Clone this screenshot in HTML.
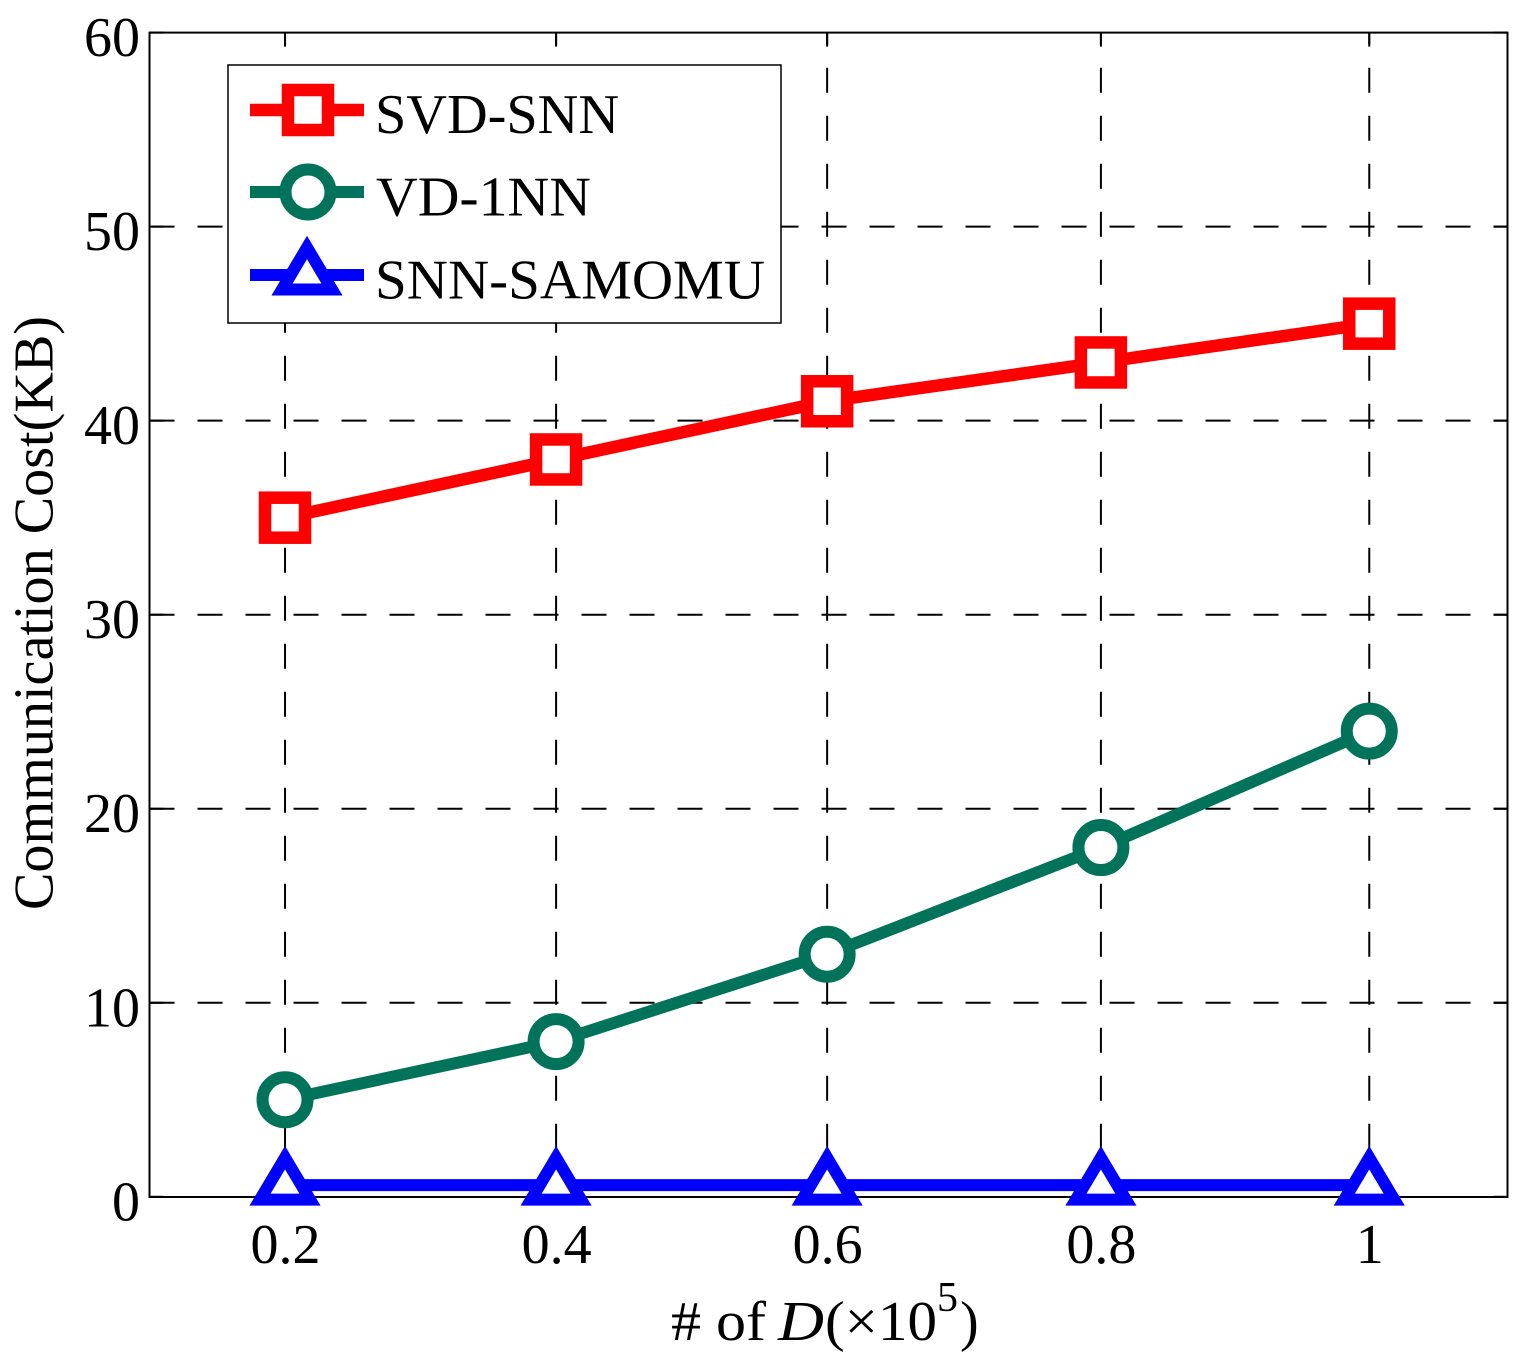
<!DOCTYPE html>
<html lang="en">
<head>
<meta charset="utf-8">
<title>Communication Cost vs number of D</title>
<style>
  html, body { margin: 0; padding: 0; background: #fff; }
  svg { display: block; }
  text { font-family: "Liberation Serif", serif; fill: #000; }
</style>
</head>
<body>
<svg id="chart" xmlns="http://www.w3.org/2000/svg" width="1520" height="1364" viewBox="0 0 1520 1364">
  <rect x="0" y="0" width="1520" height="1364" fill="#fff"/>
  <g id="grid"></g>
  <g id="ticks"></g>
  <rect x="149.5" y="32.6" width="1358" height="1164.4" fill="none" stroke="#000" stroke-width="2"/>
  <g id="tick-labels"></g>
  <g id="series"></g>

  <text transform="translate(52.5,910) rotate(-90)" font-size="56" textLength="594" lengthAdjust="spacingAndGlyphs">Communication Cost(KB)</text>
  <g font-size="56">
    <text x="671" y="1340" textLength="95" lengthAdjust="spacingAndGlyphs"># of</text>
    <text x="778" y="1340" font-style="italic" textLength="46" lengthAdjust="spacingAndGlyphs">D</text>
    <text x="825" y="1340" textLength="112" lengthAdjust="spacingAndGlyphs">(×10</text>
    <text x="937" y="1311" font-size="42">5</text>
    <text x="960" y="1340">)</text>
  </g>

  <g>
    <rect x="228" y="65" width="553" height="258" fill="#fff" stroke="#000" stroke-width="1.5"/>
    <g>
      <line x1="250" x2="364" y1="110" y2="110" stroke="#ff0000" stroke-width="12.5"/>
      <rect x="288" y="90" width="40" height="40" fill="#fff" stroke="#ff0000" stroke-width="12.5"/>
      <text x="375" y="133" font-size="56" textLength="244" lengthAdjust="spacingAndGlyphs">SVD-SNN</text>
    </g>
    <g>
      <line x1="250" x2="364" y1="192" y2="192" stroke="#00735a" stroke-width="12"/>
      <circle cx="308" cy="192" r="22.5" fill="#fff" stroke="#00735a" stroke-width="12"/>
      <text x="376" y="215.5" font-size="56" textLength="215" lengthAdjust="spacingAndGlyphs">VD-1NN</text>
    </g>
    <g>
      <line x1="250" x2="364" y1="275" y2="275" stroke="#0000ff" stroke-width="12"/>
      <path d="M307 247.5 L332 289.5 L282 289.5 Z" fill="#fff" stroke="#0000ff" stroke-width="12" stroke-miterlimit="10"/>
      <text x="375" y="298.5" font-size="56" textLength="390" lengthAdjust="spacingAndGlyphs">SNN-SAMOMU</text>
    </g>
  </g>
</svg>
<script>
// Chart data
const xValues = [0.2, 0.4, 0.6, 0.802, 1.0];
const xTickLabels = ['0.2', '0.4', '0.6', '0.8', '1'];
const yTicks = [0, 10, 20, 30, 40, 50, 60];
const yTickLabels = ['0', '10', '20', '30', '40', '50', '60'];
const svdSnnValues = [35, 38, 41, 43, 45];
const vd1nnValues = [5, 8, 12.5, 18, 24];
const snnSamomuValues = [0.6, 0.6, 0.6, 0.6, 0.6];

const NS = 'http://www.w3.org/2000/svg';
const plotLeft = 149.5, plotRight = 1507.5, plotTop = 32.6, plotBottom = 1196.8;
const xMin = 0.1, xMax = 1.102, yMin = 0, yMax = 60;
function xScale(v) { return plotLeft + (v - xMin) / (xMax - xMin) * (plotRight - plotLeft); }
function yScale(v) { return plotBottom - (v - yMin) / (yMax - yMin) * (plotBottom - plotTop); }
function make(parent, tag, props) {
  const el = document.createElementNS(NS, tag);
  for (const k in props) el.setAttribute(k, props[k]);
  parent.appendChild(el);
  return el;
}

const gridG = document.getElementById('grid');
const ticksG = document.getElementById('ticks');
const labelsG = document.getElementById('tick-labels');
const seriesG = document.getElementById('series');

xValues.forEach(function (v, i) {
  const x = xScale(v);
  const g = make(gridG, 'line', { x1: x, x2: x, y1: plotBottom, y2: plotTop, stroke: '#000', 'stroke-width': 2, 'stroke-dasharray': '25 23' });
  
  
  const t1 = make(ticksG, 'line', { x1: x, x2: x, y1: plotBottom, y2: plotBottom - 14, stroke: '#000', 'stroke-width': 2 });
  
  
  const t2 = make(ticksG, 'line', { x1: x, x2: x, y1: plotTop, y2: plotTop + 14, stroke: '#000', 'stroke-width': 2 });
  
  
  const label = make(labelsG, 'text', { x: x + 0.5, y: 1263, 'font-size': 56, 'text-anchor': 'middle' });
  
  
  label.textContent = xTickLabels[i];
});

yTicks.forEach(function (v, i) {
  const y = yScale(v);
  if (v !== yMin && v !== yMax) {
    const g = make(gridG, 'line', { x1: plotLeft, x2: plotRight, y1: y, y2: y, stroke: '#000', 'stroke-width': 2, 'stroke-dasharray': '25 23' });
    
    
  }
  const t1 = make(ticksG, 'line', { x1: plotLeft, x2: plotLeft + 14, y1: y, y2: y, stroke: '#000', 'stroke-width': 2 });
  
  
  const t2 = make(ticksG, 'line', { x1: plotRight, x2: plotRight - 14, y1: y, y2: y, stroke: '#000', 'stroke-width': 2 });
  
  
  const label = make(labelsG, 'text', { x: 140, y: y + 23.5, 'font-size': 56, 'text-anchor': 'end' });
  
  
  label.textContent = yTickLabels[i];
});

function polyPoints(values) {
  return values.map(function (v, i) { return xScale(xValues[i]) + ',' + yScale(v); }).join(' ');
}

const svdLine = make(seriesG, 'polyline', { points: polyPoints(svdSnnValues), fill: 'none', stroke: '#ff0000', 'stroke-width': 12.5 });


svdSnnValues.forEach(function (v, i) {
  const m = make(seriesG, 'rect', { x: xScale(xValues[i]) - 20, y: yScale(v) - 20, width: 40, height: 40, fill: '#fff', stroke: '#ff0000', 'stroke-width': 12.5 });
  
  
});

const vdLine = make(seriesG, 'polyline', { points: polyPoints(vd1nnValues), fill: 'none', stroke: '#00735a', 'stroke-width': 12 });


vd1nnValues.forEach(function (v, i) {
  const m = make(seriesG, 'circle', { cx: xScale(xValues[i]), cy: yScale(v), r: 22.5, fill: '#fff', stroke: '#00735a', 'stroke-width': 12 });
  
  
});

const snnLine = make(seriesG, 'polyline', { points: polyPoints(snnSamomuValues), fill: 'none', stroke: '#0000ff', 'stroke-width': 12 });


snnSamomuValues.forEach(function (v, i) {
  const cx = xScale(xValues[i]), cy = yScale(v);
  const d = 'M' + cx + ' ' + (cy - 27.5) + ' L' + (cx + 25) + ' ' + (cy + 14.5) + ' L' + (cx - 25) + ' ' + (cy + 14.5) + ' Z';
  const m = make(seriesG, 'path', { d: d, fill: '#fff', stroke: '#0000ff', 'stroke-width': 12, 'stroke-miterlimit': 10 });
  
  
});
</script>
</body>
</html>
